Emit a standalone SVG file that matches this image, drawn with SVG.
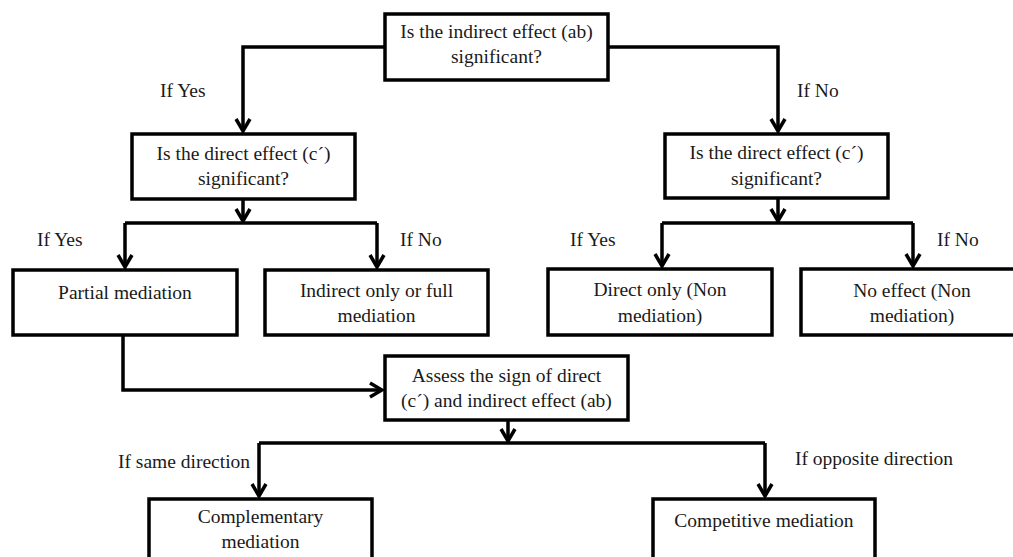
<svg xmlns="http://www.w3.org/2000/svg" width="1013" height="557" viewBox="0 0 1013 557">
<defs>
<marker id="arr" markerUnits="userSpaceOnUse" viewBox="-2 -9 16 18" markerWidth="16" markerHeight="18" refX="12" refY="0" orient="auto">
<path d="M0,-7 L12,0 L0,7" fill="none" stroke="#000" stroke-width="3.5" stroke-linejoin="miter"/>
</marker>
</defs>
<style>
.box{fill:#fff;stroke:#000;stroke-width:3.5}
.t{font-family:"Liberation Serif","Times New Roman",serif;font-size:19.5px;fill:#1a1a1a;text-anchor:middle}
.l{font-family:"Liberation Serif","Times New Roman",serif;font-size:19.5px;fill:#1a1a1a}
.c{fill:none;stroke:#000;stroke-width:3.5}
</style>
<rect width="1013" height="557" fill="#fff"/>
<g id="connectors">
<path class="c" d="M385,47 H243 V131" marker-end="url(#arr)"/>
<path class="c" d="M608,47 H778 V131" marker-end="url(#arr)"/>
<path class="c" d="M243,199 V221" marker-end="url(#arr)"/>
<path class="c" d="M125,223 H377"/>
<path class="c" d="M125,223 V267" marker-end="url(#arr)"/>
<path class="c" d="M377,223 V267" marker-end="url(#arr)"/>
<path class="c" d="M778,198 V221" marker-end="url(#arr)"/>
<path class="c" d="M662,223 H913"/>
<path class="c" d="M662,223 V266" marker-end="url(#arr)"/>
<path class="c" d="M913,223 V266" marker-end="url(#arr)"/>
<path class="c" d="M123,335 V390 H382" marker-end="url(#arr)"/>
<path class="c" d="M508,420 V441" marker-end="url(#arr)"/>
<path class="c" d="M259,443 H765"/>
<path class="c" d="M259,443 V496" marker-end="url(#arr)"/>
<path class="c" d="M765,443 V496" marker-end="url(#arr)"/>
</g>
<g id="labels">
<text class="l" x="160" y="97">If Yes</text>
<text class="l" x="797" y="97">If No</text>
<text class="l" x="37" y="246">If Yes</text>
<text class="l" x="400" y="246">If No</text>
<text class="l" x="570" y="246">If Yes</text>
<text class="l" x="937" y="246">If No</text>
<text class="l" x="118" y="468">If same direction</text>
<text class="l" x="795" y="465">If opposite direction</text>
</g>
<g id="n-top">
<rect class="box" x="385" y="14" width="223" height="66"/>
<text class="t" x="496.5" y="38">Is the indirect effect (ab)</text>
<text class="t" x="496.5" y="63">significant?</text>
</g>
<g id="n-direct-left">
<rect class="box" x="132" y="134" width="223" height="65"/>
<text class="t" x="243.5" y="160">Is the direct effect (c´)</text>
<text class="t" x="243.5" y="185">significant?</text>
</g>
<g id="n-direct-right">
<rect class="box" x="665" y="134" width="223" height="64"/>
<text class="t" x="776.5" y="159">Is the direct effect (c´)</text>
<text class="t" x="776.5" y="185">significant?</text>
</g>
<g id="n-partial">
<rect class="box" x="13" y="270" width="224" height="65"/>
<text class="t" x="125" y="299">Partial mediation</text>
</g>
<g id="n-indirect">
<rect class="box" x="265" y="270" width="223" height="65"/>
<text class="t" x="376.5" y="297">Indirect only or full</text>
<text class="t" x="376.5" y="322">mediation</text>
</g>
<g id="n-directonly">
<rect class="box" x="548" y="269" width="224" height="66"/>
<text class="t" x="660" y="296">Direct only (Non</text>
<text class="t" x="660" y="322">mediation)</text>
</g>
<g id="n-noeffect">
<rect class="box" x="801" y="269" width="230" height="66"/>
<text class="t" x="912" y="297">No effect (Non</text>
<text class="t" x="912" y="322">mediation)</text>
</g>
<g id="n-assess">
<rect class="box" x="385" y="356" width="243" height="64"/>
<text class="t" x="506.5" y="382">Assess the sign of direct</text>
<text class="t" x="506.5" y="407">(c´) and indirect effect (ab)</text>
</g>
<g id="n-complementary">
<rect class="box" x="149" y="499" width="223" height="70"/>
<text class="t" x="260.5" y="523">Complementary</text>
<text class="t" x="260.5" y="548">mediation</text>
</g>
<g id="n-competitive">
<rect class="box" x="653" y="499" width="222" height="70"/>
<text class="t" x="764" y="527">Competitive mediation</text>
</g>
</svg>
